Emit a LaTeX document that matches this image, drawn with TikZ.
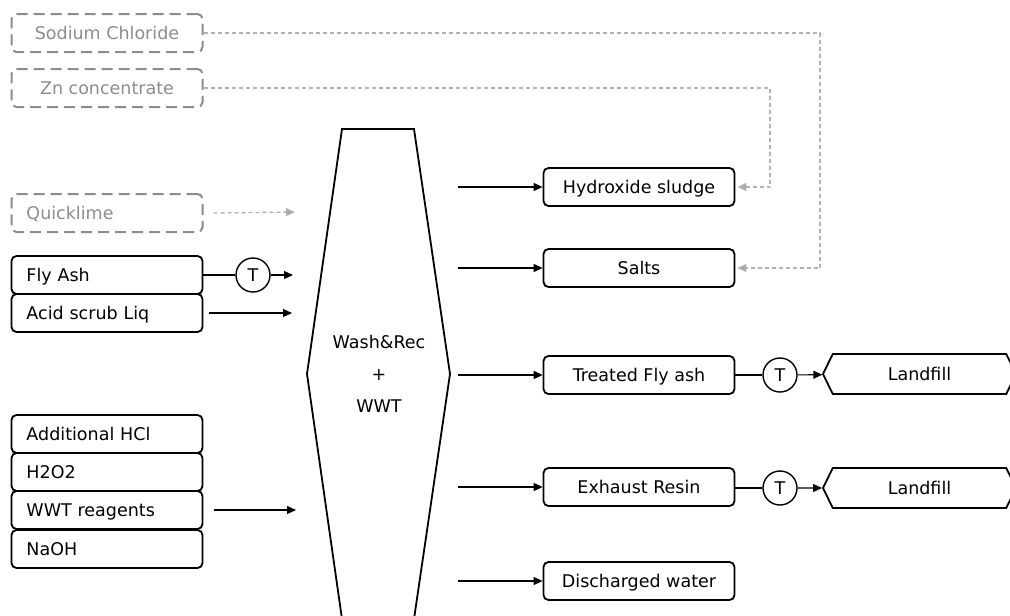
\documentclass[tikz,border=0pt]{standalone}
\usepackage{fontspec}
\setmainfont{DejaVu Sans}
\usetikzlibrary{arrows.meta,shapes.symbols}
\begin{document}
\begin{tikzpicture}[x=1pt,y=-1pt,font=\fontsize{17.5}{20}\selectfont]
	\tikzstyle{block} = [draw, line width=1.8pt, rounded corners=5pt, minimum width=191pt, minimum height=38pt, inner sep=0pt, text height=12.8pt, text depth=0pt];
	\tikzstyle{leftblock} = [block, text width=161pt, align=left];
	\tikzstyle{ghost} = [block, draw=black!45, text=black!45, line width=2pt, dash pattern=on 11pt off 6pt];
	\tikzstyle{tnode} = [draw, circle, line width=1.4pt, minimum size=34pt, inner sep=0pt, text height=12.8pt, text depth=0pt];
	\tikzstyle{sink} = [draw, line width=1.8pt, signal, signal to=west and east, signal pointer angle=128, minimum width=193pt, minimum height=40pt, text height=12.8pt, text depth=0pt];
	\tikzstyle{flow} = [-{Triangle[length=9pt,width=8pt]}, line width=1.1pt];
	\tikzstyle{dflow} = [flow, draw=black!30, dash pattern=on 4pt off 3pt, line width=1.3pt, -{Triangle[length=9pt,width=8pt,fill=black!35]}];
	\useasboundingbox (0,0) rectangle (1010,616);
	% feeds
	\node[ghost] (nacl) at (107,33) { Sodium Chloride };
	\node[ghost] (zinc) at (107,88) { Zn concentrate };
	\node[ghost, text width=161pt, align=left] (lime) at (107,213) { Quicklime };
	\node[leftblock] (ash) at (107,275) { Fly Ash };
	\node[leftblock] (acid) at (107,313) { Acid scrub Liq };
	\node[leftblock] (hcl) at (107,434) { Additional HCl };
	\node[leftblock] (perox) at (107,472) { H2O2 };
	\node[leftblock] (reag) at (107,510) { WWT reagents };
	\node[leftblock] (naoh) at (107,549) { NaOH };
	% process
	\draw[line width=1.8pt] (342,129) -- (414,129) -- (450,374) -- (414,619) -- (342,619) -- (307,374) -- cycle;
	\node[align=center, font=\fontsize{17.5}{32}\selectfont] (wash) at (379,374) { Wash\&Rec\\+\\WWT };
	\coordinate (in-lime) at (295,212);
	\coordinate (in-ash) at (293,275);
	\coordinate (in-acid) at (292,313);
	\coordinate (in-reag) at (296,510);
	\node[tnode] (t1) at (253,275) { T };
	\draw[dflow] (lime.east) ++(10,0) -- (in-lime);
	\draw[line width=1.1pt] (ash) -- (t1);
	\draw[flow] (t1) -- (in-ash);
	\draw[flow] (acid.east) ++(6,0) -- (in-acid);
	\draw[flow] (reag.east) ++(11,0) -- (in-reag);
	% products
	\foreach \nm/\y/\txt in {sludge/187/Hydroxide sludge, salts/268/Salts, ashout/375/Treated Fly ash, resin/487/Exhaust Resin, water/581/Discharged water}
	{
		\coordinate (\nm-from) at (458,\y);
		\node[block] (\nm) at (639,\y) { \txt };
		\draw[flow] (\nm-from) -- (\nm);
	}
	\node[tnode] (t2) at (780,375) { T };
	\node[tnode] (t3) at (780,488) { T };
	\node[sink] (fill1) at (919.5,374) { Landfill };
	\node[sink] (fill2) at (919.5,488) { Landfill };
	\draw[line width=1.1pt] (ashout) -- (t2);
	\draw[flow] (t2) -- (fill1);
	\draw[line width=1.1pt] (resin.east |- t3) -- (t3);
	\draw[flow] (t3) -- (fill2);
	% recycled streams
	\draw[dflow] (zinc.east) -| (770,187) -- ([xshift=2pt]sludge.east);
	\draw[dflow] (nacl.east) -| (820,268) -- ([xshift=2pt]salts.east);
\end{tikzpicture}
\end{document}
